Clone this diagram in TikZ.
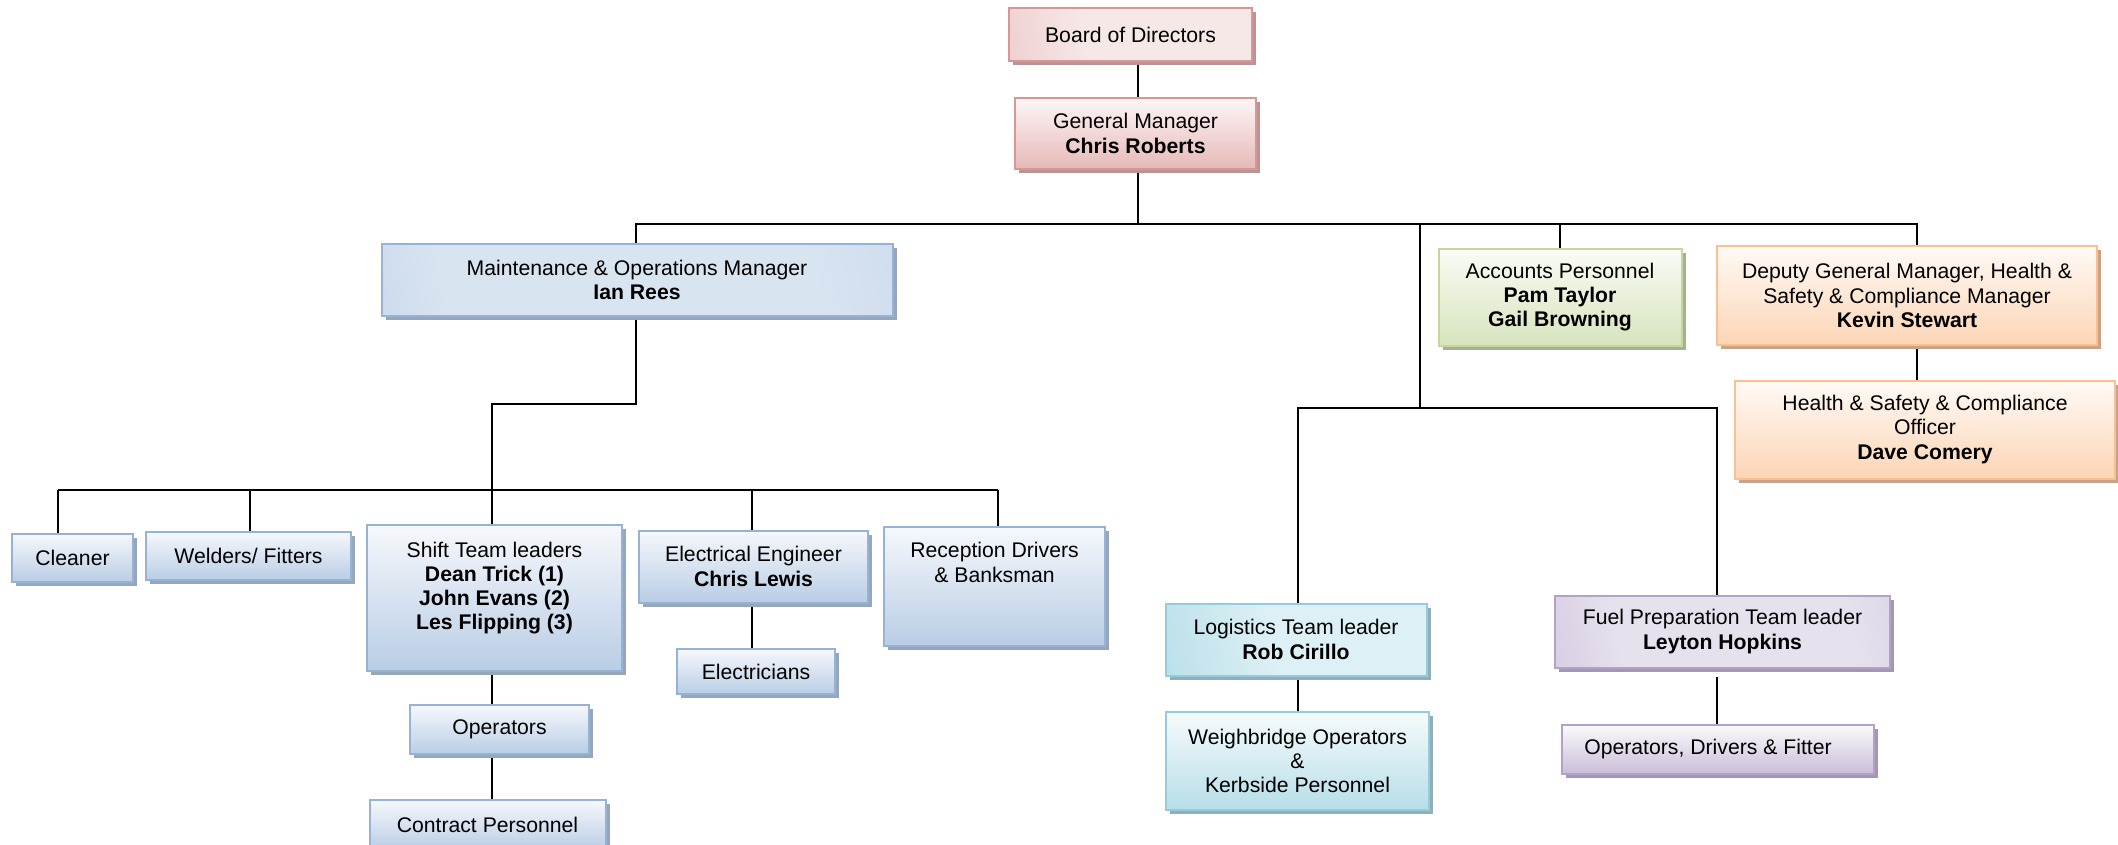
\documentclass[tikz,border=0pt]{standalone}
\usepackage{fontspec}
\setmainfont{Liberation Sans}
\usetikzlibrary{shadows,backgrounds}
\definecolor{redB}{HTML}{D99694}
\definecolor{redF}{HTML}{E6B9B8}
\definecolor{redM}{HTML}{EDCACA}
\definecolor{redL}{HTML}{F7E8E8}
\definecolor{redT}{HTML}{FDF6F6}
\definecolor{redS}{HTML}{B89494}
\definecolor{blueB}{HTML}{95B3D7}
\definecolor{blueF}{HTML}{B9CDE5}
\definecolor{blueD}{HTML}{ADC4E0}
\definecolor{blueL}{HTML}{D9E4F1}
\definecolor{blueM}{HTML}{BED0E7}
\definecolor{blueT}{HTML}{F6F8FC}
\definecolor{blueS}{HTML}{97A6B8}
\definecolor{greenB}{HTML}{C3D69B}
\definecolor{greenF}{HTML}{D7E4BD}
\definecolor{greenT}{HTML}{FAFCF6}
\definecolor{greenS}{HTML}{A8B094}
\definecolor{orangeB}{HTML}{FAC090}
\definecolor{orangeF}{HTML}{FCD5B5}
\definecolor{orangeT}{HTML}{FFFAF6}
\definecolor{orangeS}{HTML}{C9A28A}
\definecolor{aquaB}{HTML}{93CDDD}
\definecolor{aquaF}{HTML}{B7DEE8}
\definecolor{aquaD}{HTML}{A0D3E1}
\definecolor{aquaL}{HTML}{DDF0F5}
\definecolor{aquaT}{HTML}{F6FBFC}
\definecolor{aquaS}{HTML}{93AEB5}
\definecolor{purpleB}{HTML}{B3A2C7}
\definecolor{purpleF}{HTML}{C9BDD8}
\definecolor{purpleD}{HTML}{BDAFD0}
\definecolor{purpleL}{HTML}{E7E1EE}
\definecolor{purpleT}{HTML}{FBFAFC}
\definecolor{purpleS}{HTML}{A398B1}
\pgfdeclarehorizontalshading{boardsh}{100bp}{color(0bp)=(redF); color(40bp)=(redL); color(80bp)=(redL); color(100bp)=(redM)}
\pgfdeclarehorizontalshading{maintsh}{100bp}{color(0bp)=(blueD); color(28bp)=(blueL); color(70bp)=(blueL); color(100bp)=(blueM)}
\pgfdeclarehorizontalshading{logsh}{100bp}{color(0bp)=(aquaD); color(45bp)=(aquaL); color(85bp)=(aquaL); color(100bp)=(aquaF)}
\pgfdeclarehorizontalshading{fuelsh}{100bp}{color(0bp)=(purpleD); color(32bp)=(purpleL); color(72bp)=(purpleL); color(100bp)=(purpleF)}
\newcommand\orgfs{\fontsize{10.6}{12.1}\selectfont}
\tikzset{
  box/.style={draw=#1B, line width=1pt, inner sep=0pt, align=center, font=\orgfs,
    general shadow={fill=#1S, shadow xshift=2pt, shadow yshift=-2.2pt}},
  vgrad/.style={top color=#1T, bottom color=#1F},
  hshade/.style={shade, shading=#1, shading angle=12},
  sz/.style 2 args={minimum width=#1*0.5pt, minimum height=#2*0.5pt},
  conn/.style={line width=0.8pt, draw=black},
}
\begin{document}
\begin{tikzpicture}[x=0.5pt,y=-0.5pt]
\useasboundingbox (0,0) rectangle (2118,845);
% top
\node[box=red, hshade=boardsh, sz={243}{53}] (board) at (1130.5,34.5) {Board of Directors};
\node[box=red, vgrad=red, sz={241}{71}] (gm) at (1135.5,133.5) {General Manager\\\textbf{Chris Roberts}};
% second level
\node[box=blue, hshade=maintsh, sz={511}{72}] (maint) at (637,280) {Maintenance \& Operations Manager\\\textbf{Ian Rees}};
\node[box=green, vgrad=green, sz={243}{97}] (acc) at (1560,297) {Accounts Personnel\\\textbf{Pam Taylor}\\\textbf{Gail Browning}};
\node[box=orange, vgrad=orange, sz={380}{99}] (deputy) at (1907,295.5) {Deputy General Manager, Health \&\\Safety \& Compliance Manager\\\textbf{Kevin Stewart}};
\node[box=orange, vgrad=orange, sz={380}{98}] (officer) at (1925,429.5) {Health \& Safety \& Compliance\\Officer\\\textbf{Dave Comery}};
% maintenance branch
\node[box=blue, vgrad=blue, sz={121}{48}] (cleaner) at (72.5,558) {Cleaner};
\node[box=blue, vgrad=blue, sz={205}{48}] (welders) at (248.5,556) {Welders/ Fitters};
\node[box=blue, vgrad=blue, sz={255}{146}] (shift) at (494.5,598) {Shift Team leaders\\\textbf{Dean Trick (1)}\\\textbf{John Evans (2)}\\\textbf{Les Flipping (3)}\\\mbox{}};
\node[box=blue, vgrad=blue, sz={229}{72}] (elec) at (753.5,566.5) {Electrical Engineer\\\textbf{Chris Lewis}};
\node[box=blue, vgrad=blue, sz={221}{119}] (recep) at (994.5,586.5) {Reception Drivers\\\& Banksman\\\mbox{}\\\mbox{}};
\node[box=blue, vgrad=blue, sz={179}{49}] (ops) at (499.5,729.5) {Operators};
\node[box=blue, vgrad=blue, sz={236}{50}] (contract) at (487.5,825) {Contract Personnel};
\node[box=blue, vgrad=blue, sz={158}{45}] (elecs) at (756,671.5) {Electricians};
% logistics / fuel
\node[box=aqua, hshade=logsh, sz={261}{72}] (log) at (1296,639.5) {Logistics Team leader\\\textbf{Rob Cirillo}};
\node[box=aqua, vgrad=aqua, sz={263}{98}] (wb) at (1297.5,761) {Weighbridge Operators\\\&\\Kerbside Personnel};
\node[box=purple, hshade=fuelsh, sz={335}{72}] (fuel) at (1722.5,631.5) {Fuel Preparation Team leader\\\textbf{Leyton Hopkins}};
\node[box=purple, vgrad=purple, sz={312}{49}] (fops) at (1718,749.5) {Operators, Drivers \& Fitter\hspace{10pt}};
% connectors
\begin{pgfonlayer}{background}
\coordinate (top) at (1138,224);
\coordinate (jD) at (1917,224);
\coordinate (jL) at (1420,224);
\coordinate (jL2) at (1420,408);
\coordinate (jLog) at (1298,408);
\coordinate (jFuel) at (1717,408);
\coordinate (mA) at (636,404);
\coordinate (jS) at (492,404);
\coordinate (lbL) at (58,490);
\coordinate (lbR) at (998,490);
\coordinate (jW) at (250,490);
\coordinate (jE) at (752,490);
\draw[conn] (board.south -| top) -- (gm.north -| top);
\draw[conn] (gm.south -| top) -- (top);
\draw[conn] (maint.north -| mA) |- (jD) -- (deputy.north -| jD);
\draw[conn] (acc.north) -- (acc.north |- top);
\draw[conn] (jL) -- (jL2);
\draw[conn] (log.north -| jLog) -- (jLog) -- (jFuel) -- (fuel.north -| jFuel);
\draw[conn] (log.south -| jLog) -- (wb.north -| jLog);
\draw[conn, shorten <=4pt] (fuel.south -| jFuel) -- (fops.north -| jFuel);
\draw[conn] (deputy.south -| jD) -- (officer.north -| jD);
\draw[conn] (maint.south -| mA) -- (mA) -- (jS) -- (shift.north -| jS);
\draw[conn] (lbL) -- (lbR);
\draw[conn] (lbL) -- (cleaner.north -| lbL);
\draw[conn] (jW) -- (welders.north -| jW);
\draw[conn] (jE) -- (elec.north -| jE);
\draw[conn] (lbR) -- (recep.north -| lbR);
\draw[conn] (shift.south -| jS) -- (ops.north -| jS);
\draw[conn] (ops.south -| jS) -- (contract.north -| jS);
\draw[conn] (elec.south -| jE) -- (elecs.north -| jE);
\end{pgfonlayer}
\end{tikzpicture}
\end{document}
